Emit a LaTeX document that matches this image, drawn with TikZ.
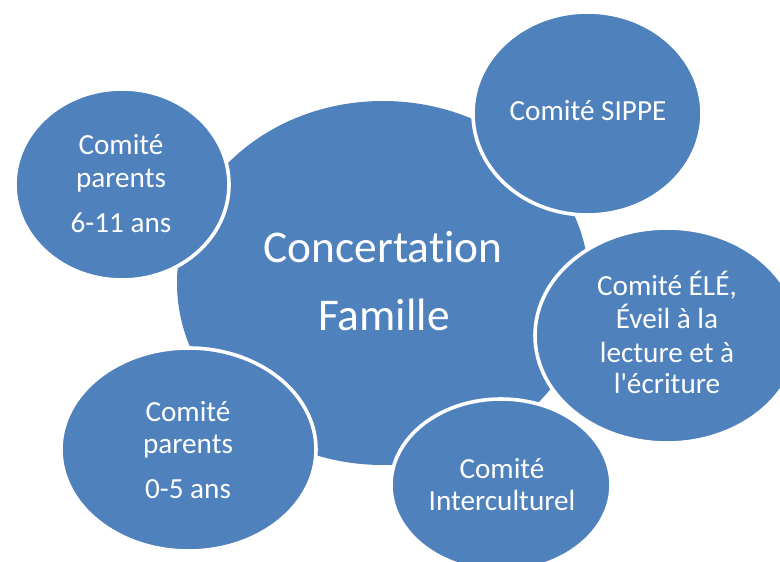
\documentclass[tikz,border=0pt]{standalone}
\usepackage{fontspec}
\setmainfont{Carlito}[Ligatures={TeXOff,NoCommon}]
\usetikzlibrary{shapes.geometric}
\definecolor{bubblue}{HTML}{4F81BD}
\begin{document}
\begin{tikzpicture}[x=1pt,y=-1pt,
  bubble/.style={ellipse, fill=bubblue, draw=white, line width=3.6pt, inner sep=0pt},
  lbl/.style={text=white, anchor=base, inner sep=0pt, font=\fontsize{29.2}{34}\selectfont},
  biglbl/.style={text=white, anchor=base, inner sep=0pt, font=\fontsize{45.4}{52}\selectfont}]
\useasboundingbox (0,0) rectangle (780,562);
\clip (0,0) rectangle (780,562);
% central
\node[bubble, draw=none, minimum width=412pt, minimum height=364pt] (central) at (383,283) {};
% satellites
\node[bubble, minimum width=214pt, minimum height=191pt] (p611) at (122,184.5) {};
\node[bubble, minimum width=229pt, minimum height=203pt] (sippe) at (587.5,113.5) {};
\node[bubble, minimum width=264pt, minimum height=215pt] (ele) at (667,335.5) {};
\node[bubble, minimum width=220pt, minimum height=172pt] (inter) at (501,485) {};
\node[bubble, minimum width=255pt, minimum height=203pt] (p05) at (188.5,449.5) {};
% labels
\node[biglbl] (t1) at (383,262) {Concertation};
\node[biglbl] (t2) at (384,330) {Famille};
\node[lbl] (a1) at (121,154) {Comité};
\node[lbl] (a2) at (121,187) {parents};
\node[lbl] (a3) at (121,232) {6-11 ans};
\node[lbl] (b1) at (588,120) {Comité SIPPE};
\node[lbl] (c1) at (667,295) {Comité ÉLÉ,};
\node[lbl] (c2) at (667,328) {Éveil à la};
\node[lbl] (c3) at (667,362) {lecture et à};
\node[lbl] (c4) at (667,393) {l'écriture};
\node[lbl] (d1) at (502,478) {Comité};
\node[lbl] (d2) at (502,510) {Interculturel};
\node[lbl] (e1) at (188,421) {Comité};
\node[lbl] (e2) at (188,453) {parents};
\node[lbl] (e3) at (188,498) {0-5 ans};
\end{tikzpicture}
\end{document}
